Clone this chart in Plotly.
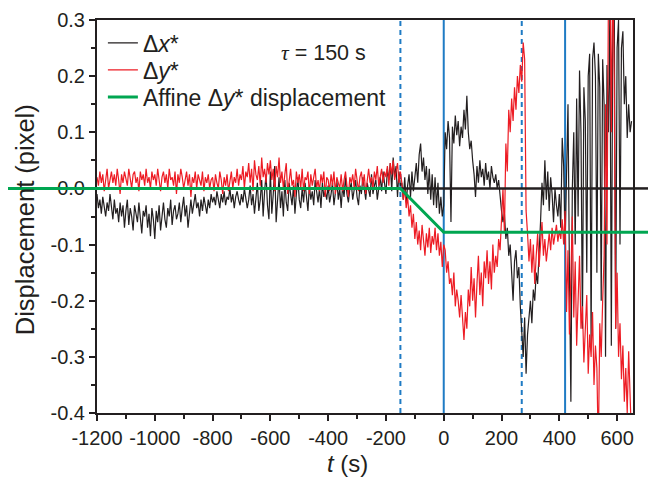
import numpy as np
import plotly.graph_objects as go

# ---- data (displacement values in 1e-3 pixel) ----
t_a = np.arange(-1200, -145, 5)          # -1200 ... -150
dx_a = [
    -10,-35,-20,-45,-15,-30,-50,-25,-40,-10,-30,-55,-20,-45,-35,-60,-25,-50,-30,-70,-40,-20,-65,-35,-50,-75,-30,-45,-60,-25,-55,-80,-40,-50,-30,-70,-45,-85,-35,-55,
    -90,-40,-60,-30,-75,-45,-25,-55,-70,-35,-50,-20,-65,-40,-30,-55,-45,-25,-60,-35,-15,-50,-30,-70,-40,-20,-45,-30,-10,-35,-25,-50,-20,-40,-15,-30,-45,-20,-35,-10,
    -25,-15,-30,-5,-20,-35,-10,-25,-5,-30,-15,-20,0,-25,-10,-35,-15,-5,-20,-30,-10,-25,0,-15,-35,-20,5,-30,-10,-45,-15,10,-40,-20,15,-50,-5,25,-30,-55,
    30,-45,-10,40,-60,-20,20,-35,-5,-50,15,-25,-40,10,-15,-30,5,-45,-10,20,-20,-35,0,-25,10,-15,-40,5,-20,-5,-30,15,-10,-25,0,-35,10,-15,-5,-20,
    5,-25,-10,10,-30,-5,15,-20,0,-35,5,-15,20,-10,-25,0,10,-20,-5,15,-15,-30,5,-10,20,-5,-20,10,0,-15,25,-10,5,15,-20,0,20,-5,30,10,
    -10,35,15,45,-5,55,20,40,-15,30,5,
]
dy_a = [
    20,5,30,10,25,-5,15,35,0,20,30,10,25,5,35,15,-10,25,10,30,20,5,35,15,0,25,30,10,20,-5,30,15,25,5,35,10,20,0,30,15,
    25,5,35,15,-5,20,30,10,25,0,35,15,20,5,30,-10,25,10,35,20,0,15,30,5,25,-15,20,10,30,0,25,15,5,30,-5,20,10,25,0,15,
    20,-5,25,10,0,30,15,-10,20,5,25,-5,15,30,0,20,10,35,5,25,15,40,0,30,20,45,10,35,-5,50,25,15,40,5,55,20,35,10,45,25,
    50,15,35,-5,40,20,55,10,30,0,25,45,-10,20,35,5,15,-15,30,10,25,0,35,-5,20,15,30,-10,25,5,20,35,0,15,-5,25,10,30,-15,20,
    15,-5,25,5,30,-10,20,10,0,25,-5,15,30,5,-15,20,10,25,0,35,15,-5,20,30,5,25,-10,15,35,10,20,0,30,15,40,5,25,35,10,30,
    20,40,5,45,25,50,15,35,45,10,30,
]

t_b = np.arange(-145, 655, 5)            # -145 ... 650
dx_b = [
    10,-20,20,-25,5,25,-15,30,-5,20,
    45,10,60,80,30,55,15,40,-10,35,
    -20,25,-30,20,-35,10,-45,-15,-50,-30,
    100,70,120,90,-60,110,80,130,95,120,
    75,110,90,140,105,165,100,70,85,50,
    25,-15,40,10,50,20,35,5,45,15,
    30,0,40,20,10,25,0,15,-20,-40,
    -60,-45,-90,-70,-120,-100,-150,-200,-130,-110,
    -160,-140,-210,-250,-300,-230,-330,-260,-220,-200,
    -240,-180,-200,-150,-170,-120,-60,10,-30,50,
    -20,30,-40,20,-10,-60,0,-30,-50,-10,
    -70,90,40,-100,30,150,-150,-380,0,100,
    -100,160,-50,210,100,-250,180,120,-150,200,
    240,-280,230,260,200,-150,240,180,-200,230,
    150,-300,220,100,320,-280,300,350,-250,250,
    300,-100,250,280,150,200,90,150,100,120,
]
dy_b = [
    10,-20,0,-35,-15,-50,-30,-70,-45,-90,
    -60,-100,-75,-110,-65,-95,-120,-80,-105,-70,
    -115,-85,-100,-70,-110,-80,-120,-95,-140,-100,
    -110,-150,-130,-170,-160,-190,-150,-210,-180,-200,
    -230,-190,-240,-270,-220,-250,-180,-210,-140,-200,
    -160,-230,-170,-120,-190,-150,-210,-130,-160,-110,
    -170,-130,-180,-100,-150,-120,-140,-90,-110,-40,
    0,-80,80,30,140,100,160,120,180,140,
    200,170,220,190,260,230,-40,-80,-130,-90,
    -150,-100,-170,-120,-80,-140,-100,-60,-120,-90,
    -130,-100,-80,-110,-70,-100,-85,-65,-95,-75,
    -90,-55,-100,-40,-220,-110,-260,-150,-50,-230,
    -130,-280,-180,-120,-250,-210,-310,-240,-190,-330,
    -260,-300,-220,-350,-280,-320,-470,-240,-300,-200,
    -120,150,-100,350,420,100,400,200,-250,-150,
    -300,-240,-340,-280,-380,-320,-400,-290,-360,-450,
]

t_all = np.concatenate([t_a, t_b])
delta_x = np.array(dx_a + dx_b) / 1000.0
delta_y = np.array(dy_a + dy_b) / 1000.0

affine_t = [-1200, -150, 0, 655]
affine_y = [0.0, 0.0, -0.078, -0.078]

zero_t = [-1200, 655]
zero_y = [0.0, 0.0]

dashed_events = [-150, 270]
solid_events = [0, 420]

x_ticks = list(range(-1200, 601, 200))
y_ticks = [-0.4, -0.3, -0.2, -0.1, 0.0, 0.1, 0.2, 0.3]

BLACK = "#231f20"
RED = "#ed1c24"
GREEN = "#00a651"
BLUE = "#1f7bc4"
FONT = "Liberation Sans, Arial, sans-serif"

fig = go.Figure()

fig.add_trace(go.Scatter(x=t_all, y=delta_x, mode="lines", name="Δ<i>x</i>*",
                         line=dict(color=BLACK, width=1.2), legend="legend"))
fig.add_trace(go.Scatter(x=t_all, y=delta_y, mode="lines", name="Δ<i>y</i>*",
                         line=dict(color=RED, width=1.2), legend="legend2"))
fig.add_trace(go.Scatter(x=zero_t, y=zero_y, mode="lines", showlegend=False,
                         line=dict(color=BLACK, width=2.5), hoverinfo="skip"))
fig.add_trace(go.Scatter(x=affine_t, y=affine_y, mode="lines",
                         name="Affine Δ<i>y</i>* displacement",
                         line=dict(color=GREEN, width=3), legend="legend3"))

shapes = []
for ev in dashed_events:
    shapes.append(dict(type="line", xref="x", yref="paper", x0=ev, x1=ev, y0=0, y1=1,
                       line=dict(color=BLUE, width=2, dash="5px,4px"), layer="below"))
for ev in solid_events:
    shapes.append(dict(type="line", xref="x", yref="paper", x0=ev, x1=ev, y0=0, y1=1,
                       line=dict(color=BLUE, width=2), layer="below"))
# continuation of the reference lines outside the frame
shapes.append(dict(type="line", xref="paper", yref="y", x0=-0.172, x1=0, y0=affine_y[0], y1=affine_y[0],
                   line=dict(color=GREEN, width=3), layer="above"))
shapes.append(dict(type="line", xref="paper", yref="y", x0=1.0, x1=1.028, y0=affine_y[-1], y1=affine_y[-1],
                   line=dict(color=GREEN, width=3), layer="above"))
shapes.append(dict(type="line", xref="paper", yref="y", x0=1.0, x1=1.028, y0=zero_y[-1], y1=zero_y[-1],
                   line=dict(color=BLACK, width=2.5), layer="above"))

axis_common = dict(
    showline=True, linecolor=BLACK, linewidth=2, mirror=True,
    ticks="outside", ticklen=6, tickwidth=2, tickcolor=BLACK,
    showgrid=False, zeroline=False, automargin=False,
    tickfont=dict(family=FONT, size=20, color=BLACK),
)

legend_common = dict(xanchor="left", yanchor="middle", bgcolor="rgba(0,0,0,0)",
                     font=dict(family=FONT, size=23, color=BLACK), borderwidth=0)

fig.update_layout(
    width=649, height=471,
    margin=dict(l=89, r=24, t=12, b=66, autoexpand=False),
    paper_bgcolor="white", plot_bgcolor="white",
    font=dict(family=FONT, color=BLACK),
    shapes=shapes,
    xaxis=dict(range=[-1200, 655], tickvals=x_ticks, ticktext=[str(v) for v in x_ticks],
               minor=dict(dtick=100, tick0=-1200, ticks="outside", ticklen=4, tickwidth=2, tickcolor=BLACK),
               **axis_common),
    yaxis=dict(range=[-0.4, 0.3], tickvals=y_ticks, ticktext=[f"{v:.1f}" for v in y_ticks],
               minor=dict(dtick=0.05, tick0=0, ticks="outside", ticklen=4, tickwidth=2, tickcolor=BLACK),
               **axis_common),
    legend=dict(x=0.011, y=0.9415, **legend_common),
    legend2=dict(x=0.011, y=0.8728, **legend_common),
    legend3=dict(x=0.011, y=0.804, **legend_common),
    annotations=[
        dict(text="<i>t</i> (s)", xref="paper", yref="paper", x=0.468, y=-0.128,
             xanchor="center", yanchor="middle", showarrow=False,
             font=dict(family=FONT, size=24, color=BLACK)),
        dict(text="Displacement (pixel)", xref="paper", yref="paper", x=-0.134, y=0.491,
             xanchor="center", yanchor="middle", textangle=-90, showarrow=False,
             font=dict(family=FONT, size=25.5, color=BLACK)),
        dict(text="<span style='font-family:Liberation Serif'><i>τ</i></span> = 150 s",
             xref="paper", yref="paper", x=0.422, y=0.916,
             xanchor="center", yanchor="middle", showarrow=False,
             font=dict(family=FONT, size=21.5, color=BLACK)),
    ],
)

fig.write_html("out.html")
